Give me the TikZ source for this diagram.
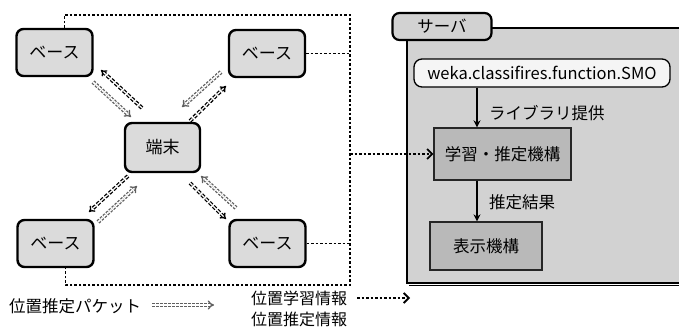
\documentclass[tikz,border=0pt]{standalone}
\usepackage{fontspec}
\setmainfont{Noto Sans CJK JP}
\usetikzlibrary{arrows.meta,calc}
\tikzset{
  basebox/.style={draw=black, line width=2.4pt, rounded corners=7pt, fill=gray!28, minimum width=76pt, minimum height=47pt, font=\fontsize{17}{19}\selectfont},
  procbox/.style={draw=black!85, line width=1.3pt, fill=gray!55, font=\fontsize{16.5}{19}\selectfont},
  packet/.style={draw=gray!75!black, double=white, double distance=1.6pt, line width=1.3pt, dash pattern=on 2.5pt off 1.5pt, -{Implies[length=6pt]}},
  infod/.style={draw=black, double=white, double distance=1.2pt, line width=1.3pt, dash pattern=on 3.5pt off 2pt, -{Implies[length=6pt]}},
  info/.style={draw=black, line width=1.8pt, dash pattern=on 2.5pt off 2pt},
  lbl/.style={font=\fontsize{16.5}{19}\selectfont, inner sep=0pt}
}
\begin{document}
\begin{tikzpicture}[x=1pt,y=-1pt]
\useasboundingbox (0,0) rectangle (679,329);

% server
\fill[gray!35] (407,28) rectangle (690,283);
\draw[line width=2.2pt] (690,28) -- (407,28) -- (407,283) -- (690,283);
\draw[line width=1.6pt] (409,285.5) -- (690,285.5);
\node[draw=black, line width=2.2pt, rounded corners=7pt, fill=gray!35, minimum width=99pt, minimum height=27pt, inner sep=0pt, font=\fontsize{16.5}{19}\selectfont] (tab) at (442,26.5) {サーバ};
\node[draw=black, line width=1.3pt, rounded corners=8pt, fill=gray!8, minimum width=256pt, minimum height=28pt, inner sep=0pt, font=\fontsize{16.5}{19}\selectfont] (smo) at (542,73) {weka.classifires.function.SMO};
\node[procbox, minimum width=137pt, minimum height=52pt, inner sep=0pt] (learn) at (502.5,154) {学習・推定機構};
\node[procbox, minimum width=112pt, minimum height=48pt, inner sep=0pt] (disp) at (486,246) {表示機構};
\draw[line width=2pt, -{Stealth[length=7pt,width=7pt]}] (smo.south -| 477,0) -- (learn.north -| 477,0);
\draw[line width=2pt, -{Stealth[length=7pt,width=7pt]}] (learn.south -| 477,0) -- (disp.north -| 477,0);
\node[lbl, anchor=west] (lib) at (489,113) {ライブラリ提供};
\node[lbl, anchor=west] (res) at (489,202) {推定結果};

% nodes
\node[basebox] (tl) at (54.5,52.5) {ベース};
\node[basebox] (tr) at (267,53.5) {ベース};
\node[basebox] (bl) at (55.5,243.5) {ベース};
\node[basebox] (br) at (267.5,243.5) {ベース};
\node[basebox, minimum width=75pt, minimum height=49pt] (tm) at (162.5,147.5) {端末};

% bus
\coordinate (btr) at (350,15);
\coordinate (bbr) at (350,285);
\coordinate (bmid) at (350,154);
\draw[info] ([xshift=10pt]tl.north) |- (btr) -- (bbr) -| ([xshift=10pt]bl.south);
\draw[info] (tr.east) -- (tr.east -| btr);
\draw[info] (br.east) -- (br.east -| btr);
\draw[info, -{Straight Barb[length=5pt,width=10pt,line width=1.8pt]}] (bmid) -- (learn.west);

% diagonal arrows
\coordinate (a1s) at (93,82);  \coordinate (a1e) at (131,117);
\coordinate (a2s) at (142,108); \coordinate (a2e) at (101,70);
\draw[packet] (a1s) -- (a1e);
\draw[infod] (a2s) -- (a2e);
\coordinate (b1s) at (221,72); \coordinate (b1e) at (182,107);
\coordinate (b2s) at (190,121); \coordinate (b2e) at (226,86);
\draw[packet] (b1s) -- (b1e);
\draw[infod] (b2s) -- (b2e);
\coordinate (c1s) at (128,176); \coordinate (c1e) at (89,212);
\coordinate (c2s) at (98,222); \coordinate (c2e) at (137,186);
\draw[infod] (c1s) -- (c1e);
\draw[packet] (c2s) -- (c2e);
\coordinate (d1s) at (190,183); \coordinate (d1e) at (226,219);
\coordinate (d2s) at (236,208); \coordinate (d2e) at (201,176);
\draw[infod] (d1s) -- (d1e);
\draw[packet] (d2s) -- (d2e);

% legend
\node[lbl, anchor=west, font=\fontsize{16.5}{19}\selectfont] (lg1) at (9,306) {位置推定パケット};
\coordinate (lg1s) at (152,305); \coordinate (lg1e) at (214,305);
\draw[packet] (lg1s) -- (lg1e);
\node[lbl, anchor=west, font=\fontsize{16}{19}\selectfont] (lg2) at (251,298) {位置学習情報};
\node[lbl, anchor=west, font=\fontsize{16}{19}\selectfont] (lg3) at (251,319) {位置推定情報};
\coordinate (lg2s) at (357,298); \coordinate (lg2e) at (410,298);
\draw[info, -{Straight Barb[length=5pt,width=10pt,line width=1.8pt]}] (lg2s) -- (lg2e);
\end{tikzpicture}
\end{document}
